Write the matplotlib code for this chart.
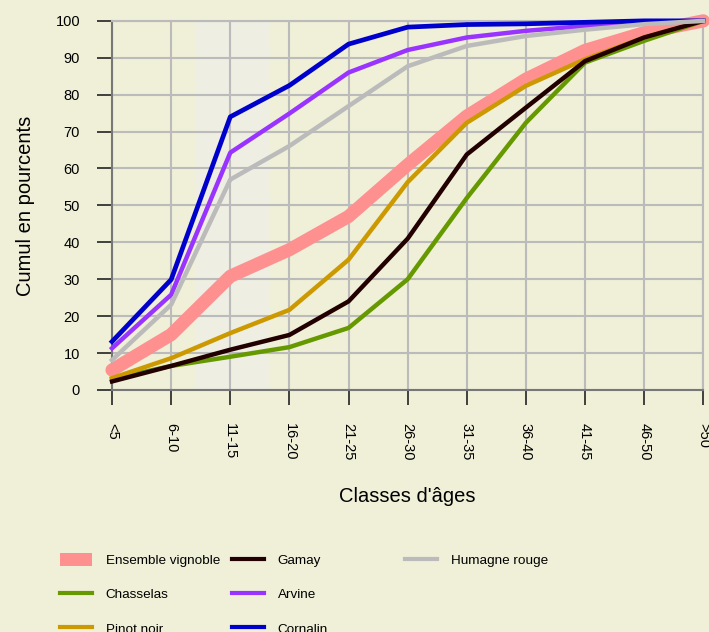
"""Cumulative age-class distribution of Valais vine varieties."""
import matplotlib
matplotlib.use("Agg")
import matplotlib.pyplot as plt
from matplotlib.patches import Patch
from matplotlib.lines import Line2D

plt.rcParams["font.family"] = ["Liberation Sans", "DejaVu Sans"]

classes = ["<5", "6-10", "11-15", "16-20", "21-25", "26-30",
           "31-35", "36-40", "41-45", "46-50", ">50"]

ensemble = [5.4, 15.0, 30.8, 38.0, 47.0, 61.0, 74.2, 84.2, 92.0, 96.8, 100]
chasselas = [3.0, 6.5, 9.0, 11.6, 16.8, 30.0, 52.0, 72.4, 88.7, 94.6, 100]
pinot = [3.2, 8.6, 15.4, 21.7, 35.3, 56.3, 72.4, 82.4, 89.6, 95.5, 100]
gamay = [2.3, 6.5, 10.9, 14.9, 24.0, 41.0, 63.8, 76.5, 89.1, 95.5, 100]
arvine = [11.3, 25.8, 64.3, 74.9, 86.0, 92.1, 95.5, 97.3, 98.6, 99.5, 100]
cornalin = [13.1, 29.9, 74.0, 82.5, 93.7, 98.3, 99.0, 99.2, 99.6, 100, 100]
humagne = [8.1, 23.1, 57.0, 66.1, 76.9, 87.7, 93.2, 95.9, 97.6, 99.1, 100]

BG = "#F0F0D8"
GRID = "#BBBBBB"

fig = plt.figure(figsize=(7.09, 6.32), dpi=100, facecolor=BG)
ax = fig.add_axes([0.158, 0.383, 0.834, 0.584])
ax.set_facecolor(BG)

x = range(len(classes))

# light band behind 11-15
ax.axvspan(1.4, 2.65, color="#EEEEE2", zorder=0, lw=0)

ax.plot(x, ensemble, color="#FF9090", lw=9.5, solid_capstyle="round",
        clip_on=False, zorder=3)
ax.plot(x, chasselas, color="#669900", lw=3.2, clip_on=False, zorder=4)
ax.plot(x, pinot, color="#CC9900", lw=3.2, clip_on=False, zorder=4)
ax.plot(x, gamay, color="#220000", lw=3.2, clip_on=False, zorder=4)
ax.plot(x, arvine, color="#9933FF", lw=3.2, clip_on=False, zorder=4)
ax.plot(x, cornalin, color="#0000CC", lw=3.4, clip_on=False, zorder=4)
ax.plot(x, humagne, color="#BBBBBB", lw=3.2, clip_on=False, zorder=4)

ax.set_xlim(0, len(classes) - 1)
ax.set_ylim(0, 100)
ax.set_xticks(list(x))
ax.set_xticklabels(classes, rotation=270, fontsize=10.5)
ax.set_yticks(range(0, 101, 10))
ax.tick_params(axis="y", labelsize=10.5, length=11, width=1.2, pad=12, color="#222222")
ax.tick_params(axis="x", length=11, width=1.2, pad=13, color="#222222")
for lbl in ax.get_xticklabels():
    lbl.set_va("top")

ax.grid(True, color=GRID, lw=1.5, zorder=1)
ax.set_axisbelow(True)
for s in ["top", "right"]:
    ax.spines[s].set_color(GRID)
    ax.spines[s].set_linewidth(1.5)
ax.spines["left"].set_color("#777777")
ax.spines["left"].set_linewidth(1.5)
ax.spines["bottom"].set_color("#777777")
ax.spines["bottom"].set_linewidth(1.5)

ax.set_ylabel("Cumul en pourcents", fontsize=14.5, labelpad=15)
ax.set_xlabel("Classes d'âges", fontsize=14.5, labelpad=19)

# legend, three fixed columns
cols = [
    [(Patch(facecolor="#FF9090", edgecolor="none"), "Ensemble vignoble"),
     (Line2D([], [], color="#669900", lw=3), "Chasselas"),
     (Line2D([], [], color="#CC9900", lw=3), "Pinot noir")],
    [(Line2D([], [], color="#220000", lw=3), "Gamay"),
     (Line2D([], [], color="#9933FF", lw=3), "Arvine"),
     (Line2D([], [], color="#0000CC", lw=3), "Cornalin")],
    [(Line2D([], [], color="#BBBBBB", lw=3), "Humagne rouge")],
]
lefts = [60, 232, 405]
for left, col in zip(lefts, cols):
    leg = fig.legend([h for h, _ in col], [t for _, t in col],
                     loc="upper left",
                     bbox_to_anchor=(left / 709, 1 - 553 / 632),
                     frameon=False, fontsize=9.7, borderpad=0,
                     borderaxespad=0, handlelength=2.4, handleheight=1.1,
                     handletextpad=1.0, labelspacing=1.5)

fig.savefig("out.png", dpi=100, facecolor=BG)
